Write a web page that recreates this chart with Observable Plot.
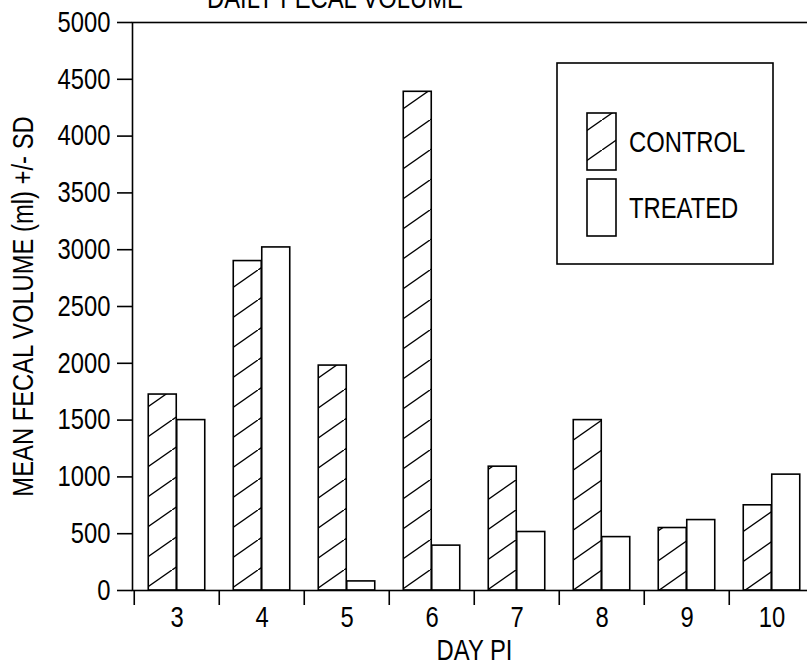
<!DOCTYPE html>
<html><head><meta charset="utf-8">
<script src="https://cdn.jsdelivr.net/npm/d3@7"></script>
<script src="https://cdn.jsdelivr.net/npm/@observablehq/plot@0.6"></script>
<style>
html,body{margin:0;padding:0;overflow:hidden;background:#fff;width:807px;height:666px}
#wrap{position:relative;width:807px;height:666px;overflow:hidden}
#chart svg{max-width:none}
#overlay{position:absolute;left:0;top:0}
</style></head><body><div id="wrap"><div id="chart"></div></div>
<script>
// ---- data ----
const days = [3, 4, 5, 6, 7, 8, 9, 10];
const groups = ["CONTROL", "TREATED"];
const controlValues = [1725, 2900, 1980, 4390, 1090, 1500, 550, 750];
const treatedValues = [1500, 3020, 80, 395, 515, 470, 620, 1020];
const yTickValues = [0, 500, 1000, 1500, 2000, 2500, 3000, 3500, 4000, 4500, 5000];
const title = "DAILY FECAL VOLUME";
const xLabel = "DAY PI";
const yLabel = "MEAN FECAL VOLUME (ml) +/- SD";

const rows = [];
days.forEach((d, i) => {
  rows.push({day: d, group: groups[0], value: controlValues[i]});
  rows.push({day: d, group: groups[1], value: treatedValues[i]});
});

const FONT = '"Liberation Sans",Arial,sans-serif';
const CONDENSE = 0.82;
const W = 816, H = 666, ML = 132, MR = 0, MT = 22, MB = 76;
const bw = (W - ML - MR) / days.length;
const SW = 1.6;

function addHatch(defsSel, id) {
  const p = defsSel.append("pattern").attr("id", id)
    .attr("patternUnits", "userSpaceOnUse").attr("width", 43).attr("height", 30);
  p.append("rect").attr("width", 43).attr("height", 30).attr("fill", "white");
  p.append("line").attr("x1", -4.3).attr("y1", 33).attr("x2", 47.3).attr("y2", -3)
    .attr("stroke", "black").attr("stroke-width", 1.4);
}
const hatchDefs = () => {
  const defs = d3.create("svg:defs");
  addHatch(defs, "hatch");
  return defs.node();
};

const chart = Plot.plot({
  width: W, height: H,
  marginLeft: ML, marginRight: MR, marginTop: MT, marginBottom: MB,
  style: {fontFamily: FONT, fontSize: "29px", maxWidth: "none", color: "black", background: "white"},
  x: {type: "band", domain: days, padding: 0},
  y: {domain: [0, 5000]},
  marks: [
    hatchDefs,
    Plot.barY(rows.filter(r => r.group === groups[0]), {
      x: "day", y: "value", fill: "url(#hatch)", stroke: "black", strokeWidth: SW,
      insetLeft: bw / 6, insetRight: bw / 2
    }),
    Plot.barY(rows.filter(r => r.group === groups[1]), {
      x: "day", y: "value", fill: "white", stroke: "black", strokeWidth: SW,
      insetLeft: bw / 2, insetRight: bw / 6
    }),
    Plot.frame({stroke: "black", strokeWidth: SW}),
    Plot.axisY({ticks: yTickValues, tickFormat: d => String(d), tickSize: 15, tickPadding: 7, strokeWidth: SW,
      label: yLabel, labelAnchor: "center", labelOffset: 120, labelArrow: "none"}),
    Plot.axisX({tickSize: 0, tickPadding: 16, label: xLabel, labelAnchor: "center",
      labelOffset: 69, labelArrow: "none"}),
    Plot.axisX({tickSize: 15, tickFormat: () => "", dx: -bw / 2, strokeWidth: SW, label: null})
  ]
});
document.getElementById("chart").appendChild(chart);

// ---- title + legend overlay ----
const ov = d3.select("#wrap").append("svg").attr("id", "overlay")
  .attr("width", 807).attr("height", 666)
  .style("font-family", FONT).style("font-size", "29px");
ov.append("text").attr("x", 207).attr("y", 8).text(title);

const ldefs = ov.append("defs");
addHatch(ldefs, "hatchL");
const lg = ov.append("g");
lg.append("rect").attr("x", 557).attr("y", 63).attr("width", 216).attr("height", 201)
  .attr("fill", "white").attr("stroke", "black").attr("stroke-width", SW);
groups.forEach((g, i) => {
  const y0 = 113 + i * 66;
  lg.append("rect").attr("x", 587).attr("y", y0).attr("width", 29).attr("height", 57)
    .attr("fill", i === 0 ? "url(#hatchL)" : "white").attr("stroke", "black").attr("stroke-width", SW);
  lg.append("text").attr("x", 629).attr("y", y0 + 28.5).attr("dy", "0.36em").text(g);
});

// condense all text horizontally (narrow sans look)
document.querySelectorAll("#wrap text").forEach(t => {
  const len = t.getComputedTextLength();
  if (len > 0) {
    t.setAttribute("textLength", (len * CONDENSE).toFixed(2));
    t.setAttribute("lengthAdjust", "spacingAndGlyphs");
  }
});
</script></body></html>
